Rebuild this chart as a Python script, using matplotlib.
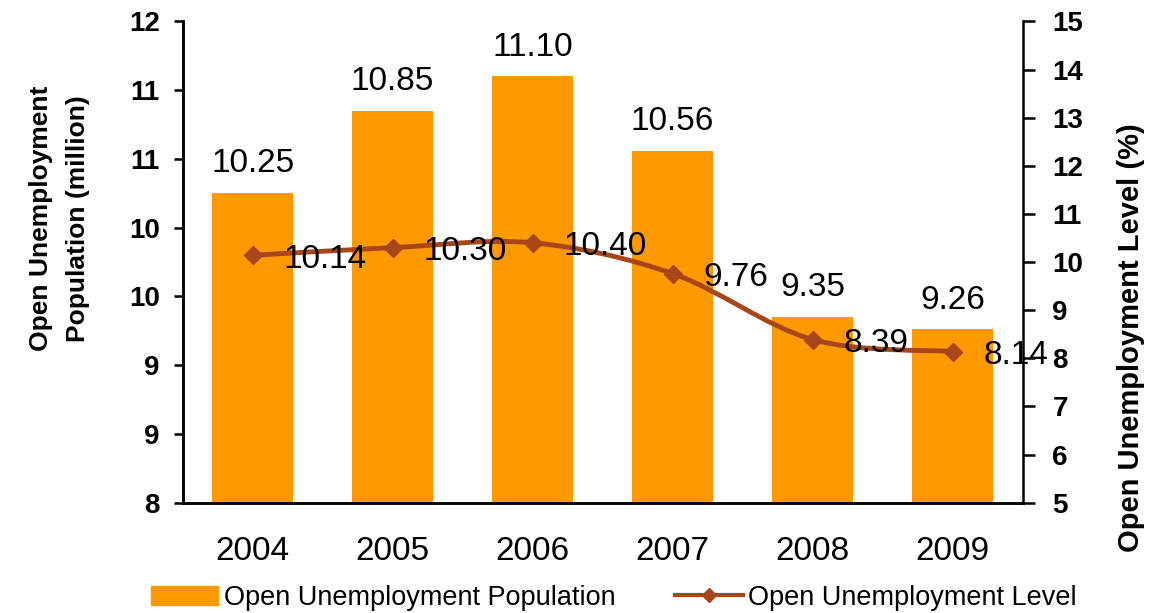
import numpy as np
import matplotlib
matplotlib.use("Agg")
import matplotlib.pyplot as plt
from matplotlib.path import Path
from matplotlib.patches import PathPatch
from matplotlib.ticker import FuncFormatter, MultipleLocator
from matplotlib.lines import Line2D
from matplotlib.patches import Patch

plt.rcParams['font.family'] = ['Liberation Sans', 'DejaVu Sans']

years = ['2004', '2005', '2006', '2007', '2008', '2009']
population = [10.25, 10.85, 11.10, 10.56, 9.35, 9.26]
pop_labels = ['10.25', '10.85', '11.10', '10.56', '9.35', '9.26']
level = [10.14, 10.30, 10.40, 9.76, 8.39, 8.14]
level_labels = ['10.14', '10.30', '10.40', '9.76', '8.39', '8.14']

bar_color = '#FF9900'
line_color = '#A8461A'

fig = plt.figure(figsize=(11.49, 6.13), dpi=100)
ax = fig.add_axes([0.159, 0.18, 0.731, 0.785])
ax2 = ax.twinx()

x = np.arange(len(years))
ax.bar(x, population, width=0.58, color=bar_color, zorder=2)
ax.set_xlim(-0.5, len(years) - 0.5)
ax.set_ylim(8, 11.5)
ax.yaxis.set_major_locator(MultipleLocator(0.5))
ax.yaxis.set_major_formatter(FuncFormatter(lambda v, p: f"{int(np.floor(v + 0.5))}"))
ax.set_xticks(x)
ax.set_xticklabels(years, fontsize=24)
ax.tick_params(axis='x', length=0, pad=24)
ax.tick_params(axis='y', labelsize=20, length=6.5, width=1.8, pad=10)
for t in ax.get_yticklabels():
    t.set_fontweight('bold')
for xi, v, lab in zip(x, population, pop_labels):
    ax.annotate(lab, (xi, v), xytext=(0, 10), textcoords='offset points',
                ha='center', va='bottom', fontsize=24)

ax.set_ylabel('Open Unemployment\nPopulation (million)', fontsize=19,
              fontweight='bold', linespacing=1.7)
ax.yaxis.set_label_coords(-0.110, 0.59)

# smoothed line (Catmull-Rom rendered as cubic Bezier)
ax2.set_ylim(5, 15)
ax2.yaxis.set_major_locator(MultipleLocator(1))
pts = np.column_stack([x, level])
verts = [tuple(pts[0])]
codes = [Path.MOVETO]
n = len(pts)
for i in range(n - 1):
    p0 = pts[i - 1] if i > 0 else pts[i]
    p1 = pts[i]
    p2 = pts[i + 1]
    p3 = pts[i + 2] if i + 2 < n else pts[i + 1]
    c1 = p1 + (p2 - p0) / 6.0
    c2 = p2 - (p3 - p1) / 6.0
    verts += [tuple(c1), tuple(c2), tuple(p2)]
    codes += [Path.CURVE4] * 3
ax2.add_patch(PathPatch(Path(verts, codes), facecolor='none',
                        edgecolor=line_color, lw=3.5, zorder=3))
ax2.plot(x, level, linestyle='none', marker='D', markersize=9,
         color=line_color, zorder=4)
for xi, v, lab in zip(x, level, level_labels):
    ax2.annotate(lab, (xi, v), xytext=(22, -3), textcoords='offset points',
                 ha='left', va='center', fontsize=24)
ax2.tick_params(axis='y', labelsize=20, length=8.5, width=1.8, pad=13)
for t in ax2.get_yticklabels():
    t.set_fontweight('bold')
ax2.set_ylabel('Open Unemployment Level (%)', fontsize=21,
               fontweight='bold')
ax2.yaxis.set_label_coords(1.112, 0.343)

for a in (ax, ax2):
    a.spines['top'].set_visible(False)
    for s in ('left', 'right', 'bottom'):
        a.spines[s].set_linewidth(1.8)
ax.spines['right'].set_visible(False)

handles = [Patch(color=bar_color),
           Line2D([0], [0], color=line_color, lw=3, marker='D', markersize=7)]
fig.legend(handles, ['Open Unemployment Population', 'Open Unemployment Level'],
           loc='center', bbox_to_anchor=(0.534, 0.025), ncol=2, frameon=False,
           fontsize=19.5, handlelength=2.5, columnspacing=2.2, handletextpad=0.2,
           borderpad=0)

fig.savefig('out.png', dpi=100)
